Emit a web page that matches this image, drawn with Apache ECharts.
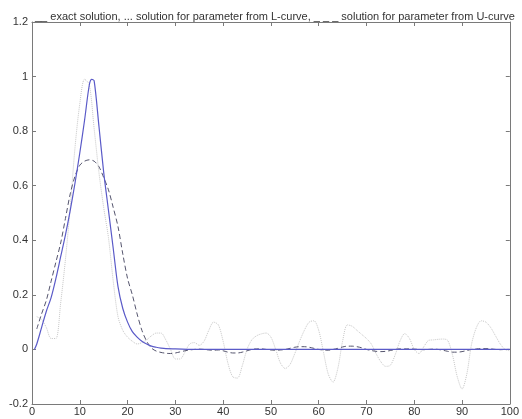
<!DOCTYPE html>
<html>
<head>
<meta charset="utf-8">
<script src="https://cdn.jsdelivr.net/npm/echarts@6/dist/echarts.min.js"></script>
<style>html,body{margin:0;padding:0;background:#fff;}#c{width:522px;height:419px;}</style>
</head>
<body>
<div id="c"></div>
<script>
var titleText = "__ exact solution, ... solution for parameter from L-curve, _ _ _ solution for parameter from U-curve";
var xTicks = [0, 10, 20, 30, 40, 50, 60, 70, 80, 90, 100];
var yTicks = [-0.2, 0, 0.2, 0.4, 0.6, 0.8, 1, 1.2];

var exactX = [0.5, 1, 2, 3, 4, 5, 6, 7, 8, 9, 10, 11, 12, 12.5, 13, 14, 15, 16, 17, 18, 19, 20, 21, 22, 23, 24, 25, 26, 27, 28, 30, 35, 100];
var exactY = [0.0, 0.02, 0.08, 0.14, 0.19, 0.26, 0.34, 0.42, 0.51, 0.61, 0.72, 0.84, 0.97, 0.99, 0.985, 0.82, 0.65, 0.51, 0.37, 0.23, 0.15, 0.1, 0.065, 0.045, 0.03, 0.02, 0.012, 0.008, 0.005, 0.003, 0.002, 0.0, 0.0];

var lcurveX = [1,2,3,4,5,6,7,8,9,10,11,12,13,14,15,16,17,18,19,20,21,22,23,24,25,26,27,28,29,30,31,32,33,34,35,36,37,38,39,40,41,42,43,44,45,46,47,48,49,50,51,52,53,54,55,56,57,58,59,60,61,62,63,64,65,66,67,68,69,70,71,72,73,74,75,76,77,78,79,80,81,82,83,84,85,86,87,88,89,90,91,92,93,94,95,96,97,98,99,100];
var lcurveY = [0.12,0.11,0.08,0.04,0.04,0.17,0.33,0.52,0.74,0.9,0.99,0.97,0.81,0.65,0.52,0.41,0.25,0.12,0.07,0.045,0.03,0.02,0.025,0.035,0.05,0.06,0.06,0.035,0.0,-0.035,-0.035,-0.01,0.02,0.025,0.015,0.03,0.07,0.1,0.09,0.03,-0.05,-0.1,-0.105,-0.06,0.0,0.035,0.05,0.057,0.06,0.045,0.0,-0.05,-0.07,-0.055,-0.015,0.03,0.07,0.1,0.105,0.07,-0.01,-0.09,-0.12,-0.07,0.03,0.09,0.085,0.07,0.055,0.04,0.02,-0.015,-0.045,-0.062,-0.058,-0.02,0.03,0.058,0.04,0.0,-0.015,0.01,0.033,0.035,0.037,0.038,0.033,-0.02,-0.1,-0.145,-0.09,0.02,0.08,0.105,0.1,0.08,0.05,0.02,0.0,-0.005];

var ucurveX = lcurveX;
var ucurveY = [0.075,0.13,0.18,0.25,0.32,0.39,0.48,0.57,0.635,0.675,0.69,0.695,0.69,0.67,0.63,0.585,0.52,0.45,0.35,0.26,0.2,0.13,0.07,0.03,0.005,-0.006,-0.011,-0.014,-0.015,-0.013,-0.009,-0.005,-0.002,0.0,0.001,0.0,-0.002,-0.003,-0.002,-0.005,-0.01,-0.013,-0.013,-0.01,-0.005,0.0,0.002,0.002,0.0,-0.002,-0.003,-0.002,0.0,0.004,0.008,0.01,0.01,0.008,0.004,0.0,-0.002,-0.003,0.0,0.004,0.009,0.012,0.012,0.01,0.006,0.0,-0.004,-0.007,-0.008,-0.007,-0.004,0.0,0.002,0.002,0.002,0.001,0.0,-0.001,0.0,0.001,0.0,-0.003,-0.007,-0.01,-0.01,-0.008,-0.004,0.0,0.002,0.003,0.003,0.002,0.0,-0.001,0.0,0.0];

function pairs(xs, ys) { return xs.map(function (x, i) { return [x, ys[i]]; }); }
function fmt(v) { return String(Math.round(v * 10) / 10); }

var axisColor = '#7a7a7a';
var labelStyle = { color: '#333', fontSize: 11, fontFamily: 'Liberation Sans, Arial, sans-serif' };

var chart = echarts.init(document.getElementById('c'), null, { renderer: 'canvas' });
chart.setOption({
  backgroundColor: '#fff',
  animation: false,
  title: {
    text: titleText,
    left: 30,
    top: 6,
    textStyle: { fontSize: 11, fontWeight: 'normal', color: '#333', fontFamily: 'Liberation Sans, Arial, sans-serif' }
  },
  grid: { left: 32, right: 9, top: 22, bottom: 15 },
  xAxis: [{
    type: 'value', min: xTicks[0], max: xTicks[xTicks.length - 1], interval: 10,
    axisLine: { show: true, onZero: false, lineStyle: { color: axisColor, width: 1 } },
    axisTick: { show: true, inside: true, length: 4, lineStyle: { color: axisColor } },
    axisLabel: Object.assign({ margin: 2, formatter: fmt }, labelStyle),
    splitLine: { show: false }
  }, {
    type: 'value', position: 'top', min: xTicks[0], max: xTicks[xTicks.length - 1], interval: 10,
    axisLine: { show: true, onZero: false, lineStyle: { color: axisColor, width: 1 } },
    axisTick: { show: true, inside: true, length: 4, lineStyle: { color: axisColor } },
    axisLabel: { show: false }, splitLine: { show: false }
  }],
  yAxis: [{
    type: 'value', min: yTicks[0], max: yTicks[yTicks.length - 1], interval: 0.2,
    axisLine: { show: true, onZero: false, lineStyle: { color: axisColor, width: 1 } },
    axisTick: { show: true, inside: true, length: 4, lineStyle: { color: axisColor } },
    axisLabel: Object.assign({ margin: 4, formatter: fmt }, labelStyle),
    splitLine: { show: false }
  }, {
    type: 'value', position: 'right', min: yTicks[0], max: yTicks[yTicks.length - 1], interval: 0.2,
    axisLine: { show: true, onZero: false, lineStyle: { color: axisColor, width: 1 } },
    axisTick: { show: true, inside: true, length: 4, lineStyle: { color: axisColor } },
    axisLabel: { show: false }, splitLine: { show: false }
  }],
  series: [{
    name: 'L-curve', type: 'line', data: pairs(lcurveX, lcurveY), showSymbol: false, smooth: 0.3,
    lineStyle: { color: '#c8c8c8', width: 1, type: [1, 1] }
  }, {
    name: 'U-curve', type: 'line', data: pairs(ucurveX, ucurveY), showSymbol: false, smooth: 0.3,
    lineStyle: { color: '#55556e', width: 1, type: [5, 3] }
  }, {
    name: 'exact', type: 'line', data: pairs(exactX, exactY), showSymbol: false, smooth: 0.3,
    lineStyle: { color: '#5a5ac8', width: 1.2 }
  }]
});
</script>
</body>
</html>
